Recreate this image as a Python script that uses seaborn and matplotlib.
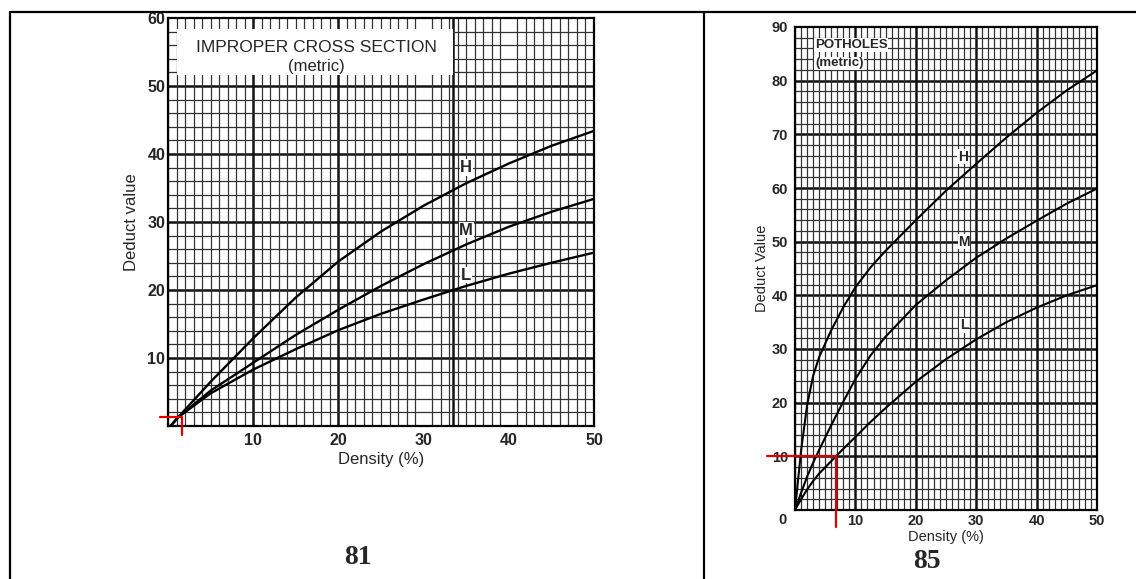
import numpy as np
import pandas as pd
import matplotlib
matplotlib.use("Agg")
import matplotlib.pyplot as plt
import seaborn as sns
from matplotlib.lines import Line2D
from matplotlib.patches import Rectangle

# ---------------- data ----------------
# Left chart: IMPROPER CROSS SECTION (metric)
ics_density = [0.3, 1.2, 5, 10, 15, 20, 25, 30, 35, 40, 45, 50]
ics_H = [0, 1.3, 6.5, 12.9, 18.9, 24.2, 28.6, 32.4, 35.7, 38.6, 41.2, 43.4]
ics_M = [0, 1.3, 5.2, 9.3, 13.4, 17.1, 20.6, 23.8, 26.7, 29.3, 31.5, 33.4]
ics_L = [0, 1.3, 4.8, 8.3, 11.3, 14.1, 16.5, 18.6, 20.6, 22.4, 24.0, 25.5]
ics_xticks = [10, 20, 30, 40, 50]
ics_yticks = [10, 20, 30, 40, 50, 60]
ics_marker = (1.7, 1.3)          # red reading marker (density, deduct)

# Right chart: POTHOLES (metric)
pot_density = [0, 1, 2, 3, 4, 6, 8, 10, 12.5, 15, 20, 25, 30, 35, 40, 45, 50]
pot_H = [0, 11, 19.5, 25, 28.5, 33.5, 37.8, 41.5, 45.2, 48.3, 54, 59.5, 64.5, 69.4, 74.0, 78.2, 81.9]
pot_M = [0, 3.2, 6.2, 8.8, 11.2, 15.8, 20.2, 24.4, 28.8, 32.3, 38.2, 42.8, 47, 50.6, 53.9, 57.1, 59.9]
pot_L = [0, 2, 3.8, 5.4, 6.8, 9.1, 11.4, 13.6, 16.4, 19.0, 23.9, 28.1, 31.8, 35, 37.7, 40.0, 41.9]
pot_xticks = [10, 20, 30, 40, 50]
pot_yticks = [10, 20, 30, 40, 50, 60, 70, 80, 90]
pot_marker = (6.8, 10)

severities = ["H", "M", "L"]
page_numbers = ["81", "85"]

# ---------------- style ----------------
sns.set_style("white")
plt.rcParams['font.family'] = ['Liberation Sans', 'DejaVu Sans']

fig = plt.figure(figsize=(11.36, 5.79), dpi=100)
W, H = 1136, 579


def frac_axes(x0, x1, y0, y1):
    return fig.add_axes([x0 / W, 1 - y1 / H, (x1 - x0) / W, (y1 - y0) / H])


def long_df(x, h, m, l):
    rows = []
    for name, vals in zip(severities, [h, m, l]):
        for xi, yi in zip(x, vals):
            rows.append({"Density": xi, "Deduct": yi, "sev": name})
    return pd.DataFrame(rows)


def draw_grid(ax, xmax, ymax, heavy_x, heavy_y):
    ax.set_xticks(np.arange(0, xmax + 0.5, 1), minor=True)
    ax.set_yticks(np.arange(0, ymax + 0.5, 2), minor=True)
    ax.grid(which="minor", color="#333333", lw=0.9, zorder=0)
    ax.grid(which="major", visible=False)
    for v in heavy_x:
        ax.axvline(v, color="#111111", lw=1.8, zorder=0.5)
    for v in heavy_y:
        ax.axhline(v, color="#111111", lw=1.8, zorder=0.5)
    ax.set_axisbelow(True)
    for s in ax.spines.values():
        s.set_visible(True)
        s.set_color("black")
        s.set_linewidth(1.6)
        s.set_zorder(5)


pal = {"H": "black", "M": "black", "L": "black"}

# ---------------- left chart ----------------
ax1 = frac_axes(168, 594, 18, 426)
df1 = long_df(ics_density, ics_H, ics_M, ics_L)
sns.lineplot(data=df1, x="Density", y="Deduct", hue="sev", palette=pal,
             estimator=None, legend=False, ax=ax1, lw=1.7, zorder=3)
ax1.set_xlim(0, 50)
ax1.set_ylim(0, 60)
draw_grid(ax1, 50, 60, [10, 20, 33.4], [10, 20, 30, 40, 50])
ax1.set_xticks(ics_xticks)
ax1.set_yticks(ics_yticks)
ax1.tick_params(axis="both", length=0, labelsize=11.5)
ax1.tick_params(axis="x", pad=5)
ax1.tick_params(axis="y", pad=2)
for t in ax1.get_xticklabels() + ax1.get_yticklabels():
    t.set_fontweight("bold")
ax1.set_xlabel("Density (%)", fontsize=12, labelpad=3)
ax1.set_ylabel("Deduct value", fontsize=12, labelpad=6)
ax1.add_patch(Rectangle((1.1, 51.6), 32.3, 6.8, facecolor="white",
                        edgecolor="none", zorder=2))
ax1.text(17.4, 55.6, "IMPROPER CROSS SECTION", ha="center", va="center",
         fontsize=12.5, zorder=4)
ax1.text(17.4, 52.9, "(metric)", ha="center", va="center", fontsize=12, zorder=4)
for name, (lx, ly) in zip(severities, [(35, 38), (35, 28.8), (35, 22.2)]):
    ax1.text(lx, ly, name, ha="center", va="center", fontsize=12,
             fontweight="bold", zorder=4,
             bbox=dict(facecolor="white", edgecolor="none", pad=0.5))
mx, my = ics_marker
ax1.plot([-0.9, mx, mx], [my, my, -1.3], color="#e00000", lw=1.6,
         clip_on=False, zorder=6)

# ---------------- right chart ----------------
ax2 = frac_axes(795, 1097, 27, 510)
df2 = long_df(pot_density, pot_H, pot_M, pot_L)
sns.lineplot(data=df2, x="Density", y="Deduct", hue="sev", palette=pal,
             estimator=None, legend=False, ax=ax2, lw=1.5, zorder=3)
ax2.set_xlim(0, 50)
ax2.set_ylim(0, 90)
draw_grid(ax2, 50, 90, [10, 20, 30, 40], [10, 20, 30, 40, 50, 60, 70, 80])
ax2.set_xticks(pot_xticks)
ax2.set_yticks(pot_yticks)
ax2.tick_params(axis="both", length=0, labelsize=10.5)
ax2.tick_params(axis="x", pad=3)
ax2.tick_params(axis="y", pad=5)
for t in ax2.get_xticklabels() + ax2.get_yticklabels():
    t.set_fontweight("bold")
ax2.annotate("0", xy=(0, 0), xytext=(-9, -7), textcoords="offset points",
             ha="center", va="center", fontsize=10.5, fontweight="bold",
             annotation_clip=False)
ax2.set_xlabel("Density (%)", fontsize=10.5, labelpad=1)
ax2.set_ylabel("Deduct Value", fontsize=10.5, labelpad=2)
ax2.text(3.3, 86.6, "POTHOLES", ha="left", va="center", fontsize=9.5,
         fontweight="bold", zorder=4,
         bbox=dict(facecolor="white", edgecolor="none", pad=0.6))
ax2.text(3.3, 83.2, "(metric)", ha="left", va="center", fontsize=9.5,
         fontweight="bold", zorder=4,
         bbox=dict(facecolor="white", edgecolor="none", pad=0.6))
for name, (lx, ly) in zip(severities, [(27.8, 65.8), (28, 50), (28, 34.4)]):
    ax2.text(lx, ly, name, ha="center", va="center", fontsize=10,
             fontweight="bold", zorder=4,
             bbox=dict(facecolor="white", edgecolor="none", pad=0.4))
mx, my = pot_marker
ax2.plot([-4.7, mx, mx], [my, my, -3.1], color="#e00000", lw=1.6,
         clip_on=False, zorder=6)

# ---------------- table frame & page numbers ----------------
lw_tab = 1.6
fig.add_artist(Line2D([10 / W, 1], [1 - 12 / H, 1 - 12 / H], color="black",
                      lw=lw_tab, transform=fig.transFigure))
fig.add_artist(Line2D([10 / W, 10 / W], [0, 1 - 12 / H], color="black",
                      lw=lw_tab, transform=fig.transFigure))
fig.add_artist(Line2D([704 / W, 704 / W], [0, 1 - 12 / H], color="black",
                      lw=lw_tab, transform=fig.transFigure))
for txt, (px, py) in zip(page_numbers, [(358, 558), (927, 562)]):
    fig.text(px / W, 1 - py / H, txt, ha="center", va="center",
             fontsize=20, fontweight="bold", family="Liberation Serif")

fig.savefig("out.png", dpi=100)
